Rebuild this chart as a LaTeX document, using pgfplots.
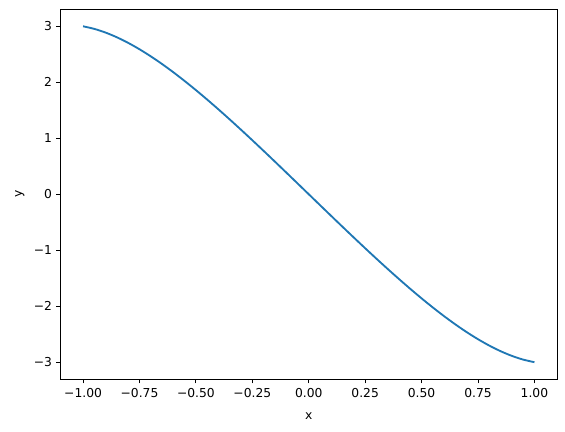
\documentclass[border=0pt]{standalone}
\usepackage{fontspec}
\setmainfont{DejaVu Sans}
\usepackage{pgfplots}
\pgfplotsset{compat=1.18}
\definecolor{mplblue}{HTML}{1F77B4}
\begin{document}
\fontsize{12.3}{14.5}\selectfont
\begin{tikzpicture}
\begin{axis}[
  scale only axis,
  width=496.5pt, height=369.5pt,
  xmin=-1.1, xmax=1.1, ymin=-3.3, ymax=3.3,
  xtick={-1,-0.75,-0.5,-0.25,0,0.25,0.5,0.75,1},
  xticklabels={−1.00,−0.75,−0.50,−0.25,0.00,0.25,0.50,0.75,1.00},
  ytick={-3,-2,-1,0,1,2,3},
  yticklabels={−3,−2,−1,0,1,2,3},
  tick align=outside, tickwidth=4.3pt,
  xtick pos=bottom, ytick pos=left,
  major tick style={black, line width=0.98pt},
  axis line style={line width=0.98pt},
  xticklabel style={font=\fontsize{12.3}{14}\selectfont, yshift=-1pt},
  yticklabel style={font=\fontsize{12.3}{14}\selectfont},
  xlabel={x}, ylabel={y},
  label style={font=\fontsize{12.3}{14}\selectfont},
  xlabel style={yshift=-6pt},
  ylabel style={yshift=1pt},
]
\addplot[mplblue, line width=1.84pt, smooth] coordinates {
(-1.00,3.0000) (-0.95,2.9534) (-0.90,2.8871) (-0.85,2.8032) (-0.80,2.7034)
(-0.75,2.5896) (-0.70,2.4633) (-0.65,2.3259) (-0.60,2.1788) (-0.55,2.0231)
(-0.50,1.8600) (-0.45,1.6904) (-0.40,1.5153) (-0.35,1.3354) (-0.30,1.1516)
(-0.25,0.9645) (-0.20,0.7746) (-0.15,0.5828) (-0.10,0.3893) (-0.05,0.1949)
(0.00,0.0000)
(0.05,-0.1949) (0.10,-0.3893) (0.15,-0.5828) (0.20,-0.7746) (0.25,-0.9645)
(0.30,-1.1516) (0.35,-1.3354) (0.40,-1.5153) (0.45,-1.6904) (0.50,-1.8600)
(0.55,-2.0231) (0.60,-2.1788) (0.65,-2.3259) (0.70,-2.4633) (0.75,-2.5896)
(0.80,-2.7034) (0.85,-2.8032) (0.90,-2.8871) (0.95,-2.9534) (1.00,-3.0000)
};
\end{axis}
\pgfresetboundingbox
\path ([xshift=-60.5pt,yshift=-53pt]current axis.south west) rectangle ([xshift=8pt,yshift=9.5pt]current axis.north east);
\end{tikzpicture}
\end{document}
